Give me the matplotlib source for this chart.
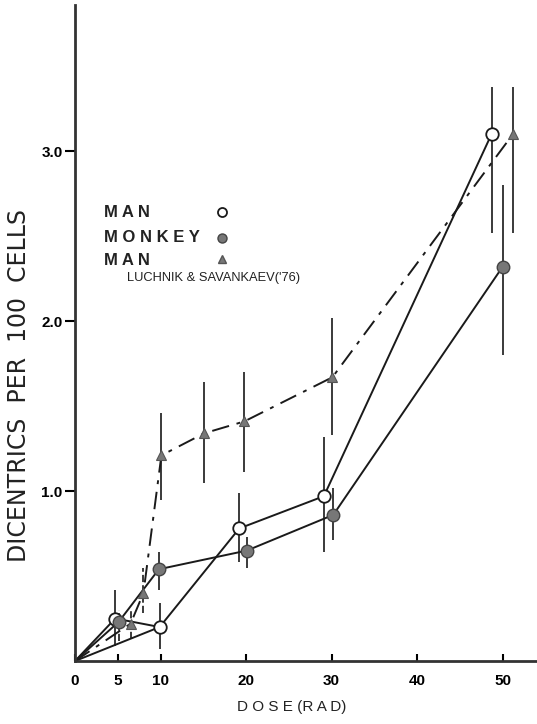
import matplotlib
matplotlib.use("Agg")
import matplotlib.pyplot as plt
from matplotlib import font_manager

# ---- data ----
man_dose = [4.7, 9.9, 19.2, 29.1, 48.7]
man_dic = [0.25, 0.20, 0.78, 0.97, 3.10]
man_hi = [0.42, 0.34, 0.99, 1.32, 3.38]
man_lo = [0.09, 0.07, 0.58, 0.64, 2.52]

monkey_dose = [5.1, 9.8, 20.1, 30.2, 50.0]
monkey_dic = [0.23, 0.54, 0.65, 0.86, 2.32]
monkey_hi = [0.30, 0.64, 0.73, 1.02, 2.80]
monkey_lo = [0.12, 0.42, 0.55, 0.71, 1.80]

luch_dose = [6.5, 8.0, 10.1, 15.1, 19.8, 30.1, 51.2]
luch_dic = [0.22, 0.40, 1.21, 1.34, 1.41, 1.67, 3.10]
luch_hi = [0.30, 0.55, 1.46, 1.64, 1.70, 2.02, 3.38]
luch_lo = [0.13, 0.28, 0.95, 1.05, 1.11, 1.33, 2.52]

x_ticks = [0, 5, 10, 20, 30, 40, 50]
y_ticks = [1.0, 2.0, 3.0]

names = [f.name for f in font_manager.fontManager.ttflist]
narrow = "Liberation Sans Narrow" if "Liberation Sans Narrow" in names else "DejaVu Sans"

plt.rcParams['font.family'] = ['Liberation Sans', 'DejaVu Sans']

fig = plt.figure(figsize=(5.37, 7.24), dpi=100)
ax = fig.add_axes([0.1397, 0.087, 0.860, 0.906])

ink = "#1a1a1a"
bar_col = "#3a3a3a"
fill = "#777777"

# error bars (low doses drawn broken like the original)
def bars(d, lo, hi, n_dashed):
    styles = ["--" if i < n_dashed else "-" for i in range(len(d))]
    ax.vlines(d, lo, hi, colors=bar_col, linestyles=styles, linewidth=1.4, zorder=1)

bars(man_dose, man_lo, man_hi, 0)
bars(monkey_dose, monkey_lo, monkey_hi, 1)
bars(luch_dose, luch_lo, luch_hi, 2)

# connecting lines, all starting at the origin
ax.plot([0] + man_dose, [0] + man_dic, color=ink, lw=1.4, zorder=2)
ax.plot([0, man_dose[1]], [0, man_dic[1]], color=ink, lw=1.4, zorder=2)
ax.plot([0] + monkey_dose, [0] + monkey_dic, color=ink, lw=1.4, zorder=2)
ax.plot([0] + luch_dose, [0] + luch_dic, color=ink, lw=1.4, zorder=2,
        dashes=(9, 4, 2, 4))

# markers
ax.plot(man_dose, man_dic, "o", ms=9, mfc="white", mec=ink, mew=1.3, zorder=4)
ax.plot(monkey_dose, monkey_dic, "o", ms=9, mfc=fill, mec="#444444", mew=1.0, zorder=4)
ax.plot(luch_dose, luch_dic, "^", ms=7.5, mfc=fill, mec="#555555", mew=0.8, zorder=4)

# legend, laid out like the hand-lettered one
lab_font = dict(fontsize=12, fontweight="bold", color="#222222", transform=ax.transAxes,
                va="center", ha="left")
ax.text(0.062, 0.684, "M A N", **lab_font)
ax.text(0.062, 0.645, "M O N K E Y", **lab_font)
ax.text(0.062, 0.611, "M A N", **lab_font)
ax.text(0.113, 0.584, "LUCHNIK & SAVANKAEV('76)", fontsize=9.3, color="#222222",
        transform=ax.transAxes, va="center", ha="left")
ax.plot([0.318], [0.684], "o", ms=6.5, mfc="white", mec=ink, mew=1.3, transform=ax.transAxes)
ax.plot([0.318], [0.645], "o", ms=6.5, mfc=fill, mec="#444444", transform=ax.transAxes)
ax.plot([0.318], [0.613], "^", ms=6, mfc=fill, mec="#555555", transform=ax.transAxes)

# axes styling
ax.set_xlim(0, 54)
ax.set_ylim(0, 3.86)
for s in ["top", "right"]:
    ax.spines[s].set_visible(False)
for s in ["left", "bottom"]:
    ax.spines[s].set_linewidth(2)
    ax.spines[s].set_color("#333333")

ax.set_xticks(x_ticks)
ax.set_xticklabels([str(t) for t in x_ticks], fontsize=11, fontweight="bold")
ax.set_yticks(y_ticks)
ax.set_yticklabels(["%.1f" % t for t in y_ticks], fontsize=11, fontweight="bold")
ax.tick_params(axis="x", direction="in", length=5, width=1.5, pad=9)
ax.tick_params(axis="y", direction="out", length=7, width=1.5, pad=2)

ax.set_xlabel("D O S E (R A D)", fontsize=11, color="#222222")
ax.xaxis.set_label_coords(0.47, -0.06)
ax.set_ylabel("DICENTRICS  PER  100  CELLS", fontsize=17, family=narrow, color="#222222")
ax.yaxis.set_label_coords(-0.095, 0.42)

fig.savefig("out.png", dpi=100)
